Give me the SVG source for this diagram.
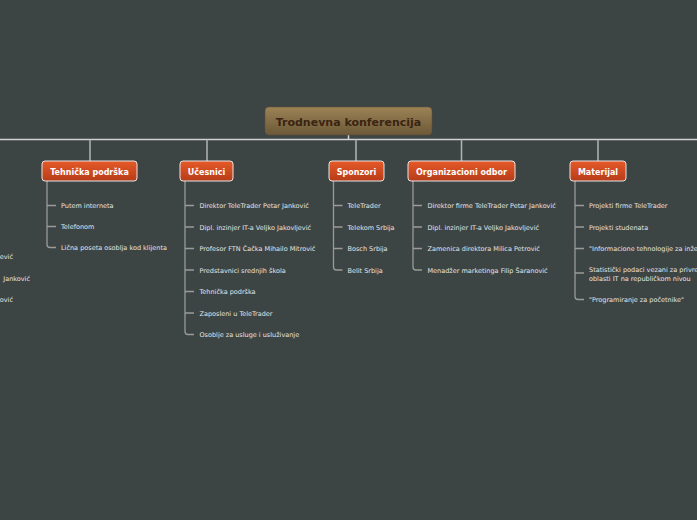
<svg xmlns="http://www.w3.org/2000/svg" width="697" height="520" viewBox="0 0 697 520">
<defs>
<linearGradient id="gRoot" x1="0" y1="0" x2="0" y2="1"><stop offset="0" stop-color="#9c8356"/><stop offset="1" stop-color="#6c5838"/></linearGradient>
<linearGradient id="gNode" x1="0" y1="0" x2="0" y2="1"><stop offset="0" stop-color="#e65a28"/><stop offset="1" stop-color="#b63c18"/></linearGradient>
<style>
.root{fill:url(#gRoot);stroke:#5e4d33;stroke-width:0.5}
.rt{font-family:"DejaVu Sans",Verdana,sans-serif;font-weight:bold;font-size:11px;fill:#3a2412;text-anchor:middle}
.nb{fill:url(#gNode);stroke:#e6e6e6;stroke-width:1}
.nt{font-family:"DejaVu Sans",Verdana,sans-serif;font-weight:bold;font-size:8px;fill:#ffffff;text-anchor:middle}
.it{font-family:"DejaVu Sans",Verdana,sans-serif;font-size:6.5px;fill:#e4e4e4}
.main{stroke:#d2d2d2;stroke-width:1.5;fill:none}
.stem{stroke:#b4b4b4;stroke-width:1.5;fill:none}
.br{stroke:#9a9a9a;stroke-width:1.3;fill:none}
</style>
</defs>
<rect width="697" height="520" fill="#3d4444"/>
<g id="connectors">
<path class="main" d="M0 139.5 H697"/>
<path class="main" stroke="#f0f0f0" d="M348.5 135 V139.5"/>
<path class="stem" d="M90 139.5 V161 M207 139.5 V161 M356 139.5 V161 M461.5 139.5 V161 M598 139.5 V161"/>
<path class="br" d="M47 181 V244.5 Q47 247.5 50 247.5 H56 M47 205.5 H56 M47 226.5 H56"/>
<path class="br" d="M185 181 V331.5 Q185 334.5 188 334.5 H194 M185 205.5 H194 M185 227 H194 M185 248.5 H194 M185 270 H194 M185 291.5 H194 M185 313 H194"/>
<path class="br" d="M333.5 181 V267 Q333.5 270 336.5 270 H342.5 M333.5 205.5 H342.5 M333.5 227 H342.5 M333.5 248.5 H342.5"/>
<path class="br" d="M413 181 V267 Q413 270 416 270 H422 M413 205.5 H422 M413 227 H422 M413 248.5 H422"/>
<path class="br" d="M575 181 V296.5 Q575 299.5 578 299.5 H584 M575 205.5 H584 M575 227 H584 M575 248.5 H584 M575 273 H584"/>
</g>
<g id="root"><rect class="root" x="265" y="107" width="167" height="28" rx="4"/><text class="rt" x="348.5" y="125.5">Trodnevna konferencija</text></g>
<g id="tehnicka"><rect class="nb" x="42" y="161" width="95" height="20" rx="3"/><text class="nt" x="89.5" y="175">Tehnička podrška</text>
<text class="it" x="61" y="208">Putem interneta</text><text class="it" x="61" y="229">Telefonom</text><text class="it" x="61" y="250">Lična poseta osoblja kod klijenta</text></g>
<g id="ucesnici"><rect class="nb" x="180" y="161" width="53" height="20" rx="3"/><text class="nt" x="206.5" y="175">Učesnici</text>
<text class="it" x="199.5" y="208">Direktor TeleTrader Petar Janković</text>
<text class="it" x="199.5" y="229.5">Dipl. inzinjer IT-a Veljko Jakovljević</text>
<text class="it" x="199.5" y="251">Profesor FTN Čačka Mihailo Mitrović</text>
<text class="it" x="199.5" y="272.5">Predstavnici srednjih škola</text>
<text class="it" x="199.5" y="294">Tehnička podrška</text>
<text class="it" x="199.5" y="315.5">Zaposleni u TeleTrader</text>
<text class="it" x="199.5" y="337">Osoblje za usluge i usluživanje</text></g>
<g id="sponzori"><rect class="nb" x="329" y="161" width="55" height="20" rx="3"/><text class="nt" x="356.5" y="175">Sponzori</text>
<text class="it" x="347.5" y="208">TeleTrader</text><text class="it" x="347.5" y="229.5">Telekom Srbija</text><text class="it" x="347.5" y="251">Bosch Srbija</text><text class="it" x="347.5" y="272.5">Belit Srbija</text></g>
<g id="odbor"><rect class="nb" x="408" y="161" width="107" height="20" rx="3"/><text class="nt" x="461.5" y="175">Organizacioni odbor</text>
<text class="it" x="427.5" y="208">Direktor firme TeleTrader Petar Janković</text>
<text class="it" x="427.5" y="229.5">Dipl. inzinjer IT-a Veljko Jakovljević</text>
<text class="it" x="427.5" y="251">Zamenica direktora Milica Petrović</text>
<text class="it" x="427.5" y="272.5">Menadžer marketinga Filip Šaranović</text></g>
<g id="materijal"><rect class="nb" x="570" y="161" width="56" height="20" rx="3"/><text class="nt" x="598" y="175">Materijal</text>
<text class="it" x="589" y="208">Projekti firme TeleTrader</text>
<text class="it" x="589" y="229.5">Projekti studenata</text>
<text class="it" x="589" y="251">"Informacione tehnologije za inženjere"</text>
<text class="it" x="589" y="272">Statistički podaci vezani za privredu u</text>
<text class="it" x="589" y="280.5">oblasti IT na republičkom nivou</text>
<text class="it" x="589" y="302">"Programiranje za početnike"</text></g>
<g id="left-cut">
<text class="it" x="13" y="259" text-anchor="end">ević</text>
<text class="it" x="30" y="280.5" text-anchor="end">Janković</text>
<text class="it" x="13" y="302" text-anchor="end">ović</text></g>
</svg>
